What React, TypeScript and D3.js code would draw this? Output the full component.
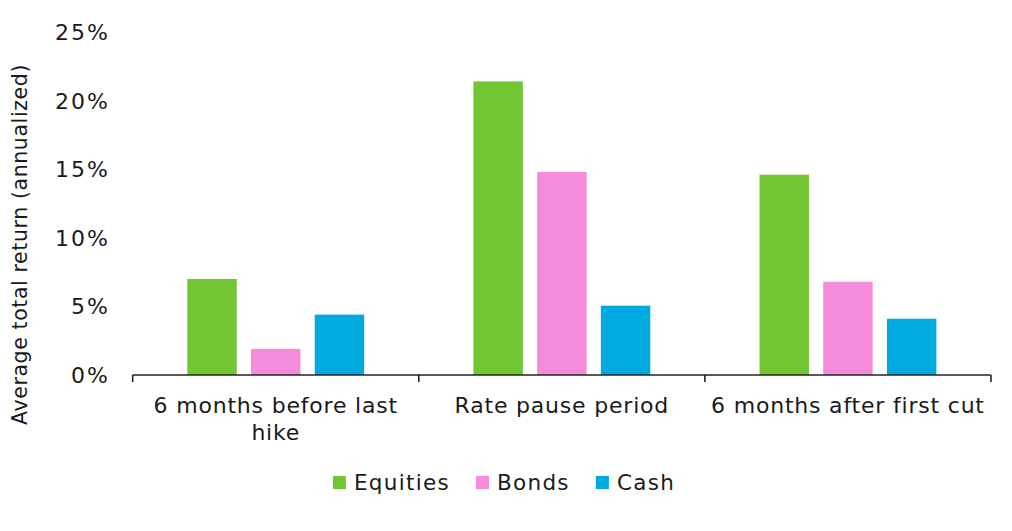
import * as d3 from "d3";
import React, { RefObject, useEffect, useRef } from "react";

const categories = [
  "6 months before last hike",
  "Rate pause period",
  "6 months after first cut",
];
const seriesNames = ["Equities", "Bonds", "Cash"];
const equities = [7.0, 21.4, 14.6];
const bonds = [1.9, 14.8, 6.8];
const cash = [4.4, 5.05, 4.1];
const yTicks = [0, 5, 10, 15, 20, 25];
const colors = ["#72c633", "#f58cdb", "#00a9e0"];

const App = () => {
  const d3Ref: RefObject<HTMLDivElement> = useRef(null);
  const width = 1012;
  const height = 531;

  useEffect(() => {
    const root = d3.select(d3Ref.current);
    root.selectAll("*").remove();
    const svg = root
      .append("svg")
      .attr("width", width)
      .attr("height", height)
      .style("position", "absolute")
      .style("left", "0px")
      .style("top", "0px")
      .style("font-family", "'DejaVu Sans', sans-serif");

    const left = 132.7;
    const right = 991;
    const top = 32;
    const bottom = 375;
    const textColor = "#1a1a1a";

    const values = [equities, bonds, cash];
    const rows = categories.map((c, i) => ({
      category: c,
      vals: seriesNames.map((s, j) => ({ series: s, value: values[j][i] })),
    }));

    const x0 = d3.scaleBand().domain(categories).range([left, right]).padding(0);
    const x1 = d3
      .scaleBand()
      .domain(seriesNames)
      .range([0, x0.bandwidth()])
      .paddingInner(0.224)
      .paddingOuter(0.857);
    const y = d3.scaleLinear().domain([0, 25]).range([bottom, top]);
    const color = d3.scaleOrdinal<string>().domain(seriesNames).range(colors);

    // y tick labels
    svg
      .append("g")
      .selectAll("text")
      .data(yTicks)
      .enter()
      .append("text")
      .attr("x", left - 22.7)
      .attr("y", (d) => y(d))
      .attr("dy", "0.36em")
      .attr("text-anchor", "end")
      .style("font-size", "22px")
      .style("letter-spacing", "2px")
      .attr("fill", textColor)
      .text((d) => `${d}%`);

    // y axis title
    svg
      .append("text")
      .attr("transform", `translate(27, ${(bottom + top) / 2 + 41}) rotate(-90)`)
      .attr("text-anchor", "middle")
      .style("font-size", "20.5px")
      .style("letter-spacing", "0.6px")
      .attr("fill", textColor)
      .text("Average total return (annualized)");

    // bars
    const groups = svg
      .append("g")
      .selectAll("g")
      .data(rows)
      .enter()
      .append("g")
      .attr("transform", (d) => `translate(${x0(d.category)},0)`);

    groups
      .selectAll("rect")
      .data((d) => d.vals)
      .enter()
      .append("rect")
      .attr("x", (d) => x1(d.series) as number)
      .attr("width", x1.bandwidth())
      .attr("y", (d) => y(d.value))
      .attr("height", (d) => y(0) - y(d.value))
      .attr("fill", (d) => color(d.series));

    // x axis
    const axisG = svg.append("g").attr("transform", `translate(0,${bottom})`);
    axisG
      .append("line")
      .attr("x1", left)
      .attr("x2", right)
      .attr("stroke", "#222")
      .attr("stroke-width", 1.6);
    const boundaries = [...categories.map((c) => x0(c) as number), right];
    axisG
      .selectAll("line.sep")
      .data(boundaries)
      .enter()
      .append("line")
      .attr("class", "sep")
      .attr("x1", (d) => d)
      .attr("x2", (d) => d)
      .attr("y1", 0)
      .attr("y2", 7)
      .attr("stroke", "#222")
      .attr("stroke-width", 1.6);

    // category labels with wrapping
    const maxW = x0.bandwidth() - 4;
    categories.forEach((c) => {
      const cx = (x0(c) as number) + x0.bandwidth() / 2;
      const t = svg
        .append("text")
        .attr("text-anchor", "middle")
        .style("font-size", "22px")
        .style("letter-spacing", "0.8px")
        .attr("fill", textColor);
      const words = c.split(" ");
      let line: string[] = [];
      let lineNo = 0;
      let tspan = t.append("tspan").attr("x", cx).attr("y", 413);
      words.forEach((w) => {
        line.push(w);
        tspan.text(line.join(" "));
        if ((tspan.node() as SVGTSpanElement).getComputedTextLength() > maxW && line.length > 1) {
          line.pop();
          tspan.text(line.join(" "));
          line = [w];
          lineNo += 1;
          tspan = t
            .append("tspan")
            .attr("x", cx)
            .attr("y", 413 + lineNo * 27)
            .text(w);
        }
      });
    });

    // legend
    const legend = svg.append("g");
    const sq = 13;
    const items = seriesNames.map((s) => {
      const g = legend.append("g");
      g.append("rect")
        .attr("width", sq)
        .attr("height", sq)
        .attr("y", 476)
        .attr("fill", color(s));
      const txt = g
        .append("text")
        .attr("x", sq + 8)
        .attr("y", 489.5)
        .style("font-size", "21.5px")
        .style("letter-spacing", "1.3px")
        .attr("fill", textColor)
        .text(s);
      const w = sq + 8 + (txt.node() as SVGTextElement).getComputedTextLength();
      return { g, w };
    });
    const gap = 26;
    const total = d3.sum(items, (d) => d.w) + gap * (items.length - 1);
    let cur = 504 - total / 2;
    items.forEach((it) => {
      it.g.attr("transform", `translate(${cur},0)`);
      cur += it.w + gap;
    });
  }, [d3Ref]);

  return <div ref={d3Ref} />;
};

export default App;
